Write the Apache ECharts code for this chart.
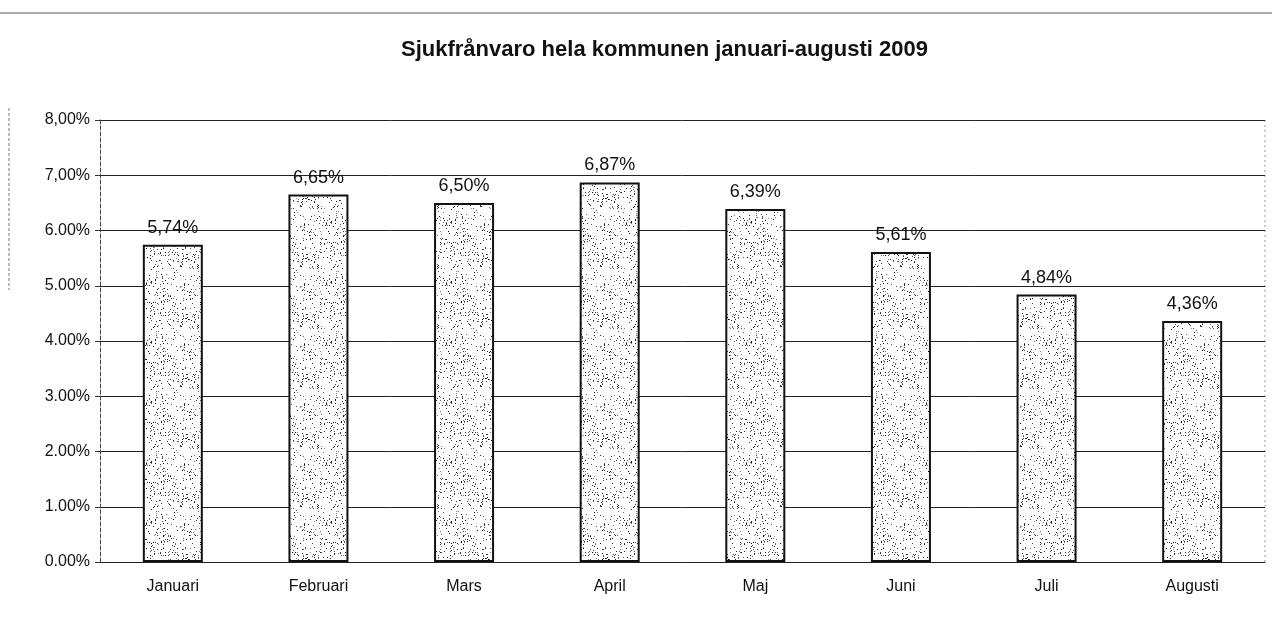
<!DOCTYPE html>
<html>
<head>
<meta charset="utf-8">
<script src="https://cdn.jsdelivr.net/npm/echarts@6/dist/echarts.min.js"></script>
<style>
  html, body { margin: 0; padding: 0; background: #fff; }
  #main { width: 1272px; height: 618px; }
</style>
</head>
<body>
<div id="main"></div>
<script>
var months = ['Januari', 'Februari', 'Mars', 'April', 'Maj', 'Juni', 'Juli', 'Augusti'];
var sickLeave = [5.74, 6.65, 6.50, 6.87, 6.39, 5.61, 4.84, 4.36];
var yTickLabels = ['0.00%', '1.00%', '2.00%', '3.00%', '4.00%', '5.00%', '6.00%', '7,00%', '8,00%'];

// stipple texture for the bars (fixed seed so it is the same every run)
function stipple() {
  var c = document.createElement('canvas');
  c.width = 60; c.height = 60;
  var ctx = c.getContext('2d');
  ctx.fillStyle = '#ffffff';
  ctx.fillRect(0, 0, 60, 60);
  var s = 12345;
  function rnd() { s = (s * 16807) % 2147483647; return s / 2147483647; }
  for (var i = 0; i < 300; i++) {
    var g = Math.floor(rnd() * 140);
    ctx.fillStyle = 'rgb(' + g + ',' + g + ',' + g + ')';
    ctx.fillRect(Math.floor(rnd() * 60), Math.floor(rnd() * 60), 1, 1);
  }
  return c;
}

var myChart = echarts.init(document.getElementById('main'));
var option = {
  animation: false,
  backgroundColor: '#fff',
  title: {
    text: 'Sjukfrånvaro hela kommunen januari-augusti 2009',
    left: 396,
    top: 34,
    textStyle: { fontFamily: 'Liberation Sans, Arial', fontSize: 22, fontWeight: 'bold', color: '#111' }
  },
  graphic: [
    { type: 'line', shape: { x1: 0, y1: 13, x2: 1272, y2: 13 }, style: { stroke: '#555', lineWidth: 1 } },
    { type: 'line', shape: { x1: 9, y1: 108, x2: 9, y2: 290 }, style: { stroke: '#777', lineWidth: 1, lineDash: [3, 2] } },
    { type: 'line', shape: { x1: 1265, y1: 120, x2: 1265, y2: 562 }, style: { stroke: '#999', lineWidth: 1, lineDash: [2, 3] } }
  ],
  grid: { left: 100, right: 7, top: 120, bottom: 56 },
  xAxis: {
    type: 'category',
    data: months,
    axisLine: { lineStyle: { color: '#222', width: 1 } },
    axisTick: { show: false },
    axisLabel: { margin: 17, fontFamily: 'Liberation Sans, Arial', fontSize: 16, color: '#111' }
  },
  yAxis: {
    type: 'value',
    min: 0, max: 8, interval: 1,
    axisLine: { show: true, lineStyle: { color: '#444', width: 1, type: 'dashed' } },
    axisTick: { show: true, length: 5, lineStyle: { color: '#333' } },
    axisLabel: {
      margin: 10,
      fontFamily: 'Liberation Sans, Arial', fontSize: 16, color: '#111',
      formatter: function (v) { return yTickLabels[Math.round(v)]; }
    },
    splitLine: { lineStyle: { color: '#222', width: 1 } }
  },
  series: [{
    name: 'Sjukfrånvaro',
    type: 'bar',
    data: sickLeave,
    barWidth: 60,
    itemStyle: {
      color: { image: stipple(), repeat: 'repeat' },
      borderColor: '#111',
      borderWidth: 2
    },
    label: {
      show: true,
      position: 'top',
      distance: 8,
      fontFamily: 'Liberation Sans, Arial',
      fontSize: 18,
      color: '#111',
      formatter: function (p) { return p.value.toFixed(2).replace('.', ',') + '%'; }
    }
  }]
};
myChart.setOption(option);
</script>
</body>
</html>
